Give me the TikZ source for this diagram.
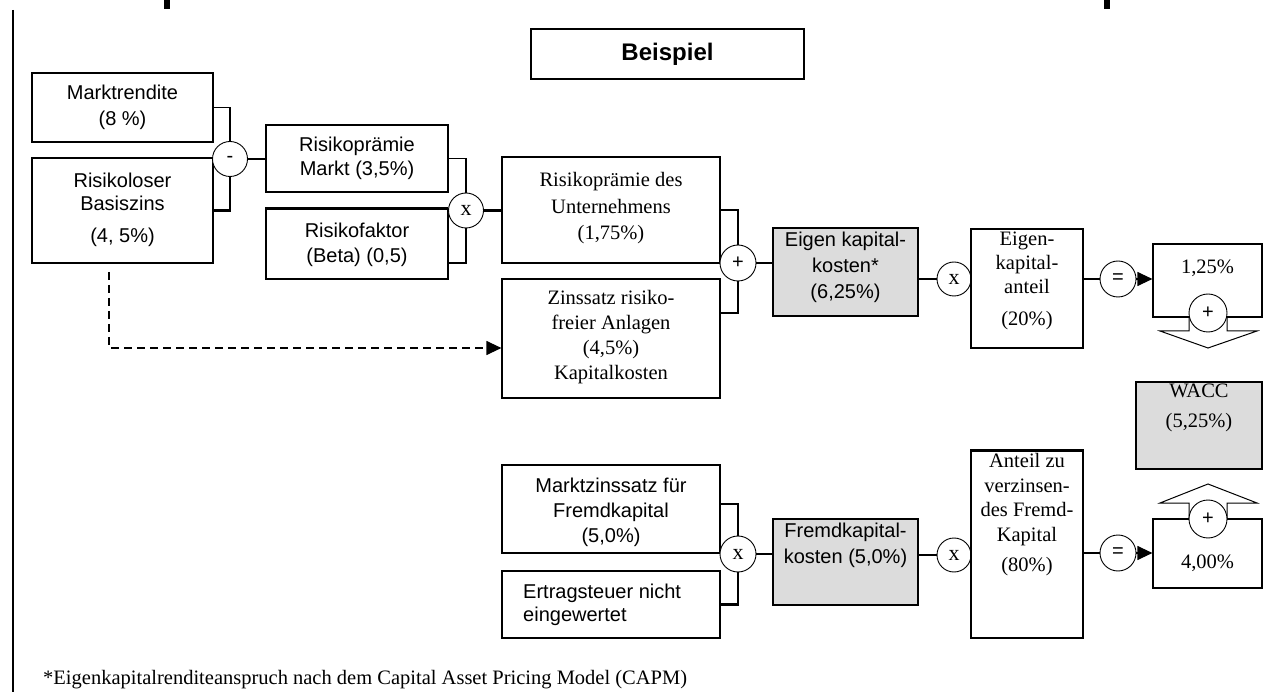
\documentclass[tikz,border=0pt]{standalone}
\usepackage{fontspec}
\setmainfont{Liberation Serif}
\newfontfamily\sansf{Liberation Sans}
\usetikzlibrary{arrows.meta,calc}
\definecolor{boxgrey}{RGB}{220,220,220}
\begin{document}
\begin{tikzpicture}[x=1pt,y=-1pt,
  box/.style={draw=black, line width=1.2pt, inner sep=0pt, rectangle},
  gbox/.style={box, fill=boxgrey},
  op/.style={circle, draw=black, line width=0.9pt, fill=white, inner sep=0pt, font=\sansf\fontsize{20}{20}\selectfont},
  opx/.style={op, font=\fontsize{22}{22}\selectfont},
  stxt/.style={align=center, inner sep=0pt, font=\sansf\fontsize{20}{26}\selectfont},
  rtxt/.style={align=center, inner sep=0pt, font=\fontsize{20.5}{25}\selectfont},
  conn/.style={line width=1.2pt, line join=miter},
  tconn/.style={line width=2.6pt, line join=miter},
  tip/.style={-{Triangle[length=15pt,width=14pt]}}
]
\fill[white] (0,0) rectangle (1275,692);
\useasboundingbox (0,0) rectangle (1275,692);

% frame marks
\draw[line width=1.5pt] (13,10) -- (13,692);
\fill (164,0) rectangle (170,9);
\fill (1104,0) rectangle (1110,9);

% title
\node[box, minimum width=273pt, minimum height=50pt] (beispiel) at (667.5,54) {};
\node[inner sep=0pt, font=\sansf\bfseries\fontsize{24}{24}\selectfont] (beispiel-t) at (667.5,54) {Beispiel};

% ---- upper part ----
\node[box, minimum width=181pt, minimum height=69pt] (markt) at (122.5,107.5) {};
\node[stxt] (markt-t) at (122.5,107) {Marktrendite\\(8 \%)};

\node[box, minimum width=181pt, minimum height=105pt] (risk) at (122.5,210.5) {};
\node[stxt, font=\sansf\fontsize{20}{23}\selectfont] (risk-t) at (122.5,210) {Risikoloser\\Basiszins\\[9pt](4, 5\%)};

\node[op, minimum size=35pt] (minus) at (230,159) {-};

\node[box, minimum width=182pt, minimum height=67pt] (rpm) at (357,158.5) {};
\node[stxt, font=\sansf\fontsize{20}{24}\selectfont] (rpm-t) at (357,158) {Risikoprämie\\Markt (3,5\%)};

\node[box, minimum width=182pt, minimum height=70pt] (rf) at (357,244) {};
\node[stxt, font=\sansf\fontsize{20}{25}\selectfont] (rf-t) at (357,244.5) {Risikofaktor\\(Beta) (0,5)};

\node[opx, minimum size=35pt] (x1) at (466,210.5) {x};

\node[box, minimum width=218pt, minimum height=106pt] (rpu) at (611,210) {};
\node[rtxt, font=\fontsize{20.5}{26.5}\selectfont] (rpu-t) at (611,208.5) {Risikoprämie des\\Unternehmens\\(1,75\%)};

\node[box, minimum width=218pt, minimum height=119pt] (zins) at (611,338.5) {};
\node[rtxt] (zins-t) at (611,337.5) {Zinssatz risiko-\\freier Anlagen\\(4,5\%)\\Kapitalkosten};

\node[op, minimum size=36pt] (plus1) at (738,263) {+};

\node[gbox, minimum width=145pt, minimum height=88pt] (ekk) at (845.5,272) {};
\node[stxt] (ekk-t) at (845.5,267) {Eigen kapital-\\kosten*\\(6,25\%)};

\node[opx, minimum size=34pt] (x2) at (954,279) {x};

\node[box, minimum width=112pt, minimum height=119pt] (eka) at (1027,288.5) {};
\node[rtxt, font=\fontsize{20.5}{24}\selectfont] (eka-t) at (1027,281) {Eigen-\\kapital-\\anteil\\[8pt](20\%)};

\node[op, minimum size=36pt] (eq1) at (1118,279) {=};

\node[box, minimum width=109pt, minimum height=73pt] (r125) at (1207.5,280.5) {};
\node[rtxt] (r125-t) at (1207.5,268) {1,25\%};

% down block arrow
\draw[line width=1pt] (1189,317) -- (1189,331) -- (1160,331) -- (1208,348) -- (1257,331) -- (1227,331) -- (1227,317);
\node[op, minimum size=38pt] (plus2) at (1208,313) {+};

\node[gbox, minimum width=126pt, minimum height=87pt] (wacc) at (1199,425.5) {};
\node[rtxt, font=\fontsize{20.5}{30}\selectfont] (wacc-t) at (1199,408) {WACC\\(5,25\%)};

% ---- lower part ----
\node[box, minimum width=218pt, minimum height=88pt] (mz) at (611,509) {};
\node[stxt, font=\sansf\fontsize{20}{25}\selectfont] (mz-t) at (611,512) {Marktzinssatz für\\Fremdkapital\\(5,0\%)};

\node[box, minimum width=218pt, minimum height=67pt] (ert) at (611,604.5) {};
\node[stxt, align=left, anchor=west, font=\sansf\fontsize{20}{23}\selectfont] (ert-t) at (523,604.5) {Ertragsteuer nicht\\eingewertet};

\node[opx, minimum size=36pt] (x4) at (738,554) {x};

\node[gbox, minimum width=145pt, minimum height=86pt] (fkk) at (845.5,562) {};
\node[stxt] (fkk-t) at (845.5,545) {Fremdkapital-\\kosten (5,0\%)};

\node[opx, minimum size=34pt] (x3) at (954,555) {x};

\node[box, minimum width=112pt, minimum height=187pt] (anteil) at (1027,544.5) {};
\node[rtxt, font=\fontsize{20.5}{24.5}\selectfont] (anteil-t) at (1027,515) {Anteil zu\\verzinsen-\\des Fremd-\\Kapital\\[6pt](80\%)};

\node[op, minimum size=36pt] (eq2) at (1118,553) {=};

\node[box, minimum width=109pt, minimum height=69pt] (r400) at (1207.5,553.5) {};
\node[rtxt] (r400-t) at (1207.5,563) {4,00\%};

% up block arrow
\draw[line width=1pt] (1189,519) -- (1189,503) -- (1160,503) -- (1208,484) -- (1257,503) -- (1227,503) -- (1227,519);
\node[op, minimum size=38pt] (plus3) at (1208,519) {+};

% ---- connectors ----
\draw[conn] (markt.east) -| (minus.north);
\draw[tconn] (risk.east) -| (minus.south);
\draw[conn] (minus.east) -- (minus.east -| rpm.west);
\draw[conn] (rpm.east) -| (x1.north);
\draw[conn] ([yshift=-19pt]rf.east) -| (x1.south);
\draw[tconn] (rf.north west) -- (rf.north west -| x1.west);
\draw[tconn] (x1.east) -- (x1.east -| rpu.west);
\draw[tconn] (rpu.east) -| (plus1.north);
\draw[tconn] ([yshift=25.5pt]zins.east) -| (plus1.south);
\draw[conn] (plus1.east) -- (plus1.east -| ekk.west);
\draw[conn] (x2.west -| ekk.east) -- (x2.west);
\draw[conn] (eq1.west -| eka.east) -- (eq1.west);
\draw[conn, tip] (eq1.east) -- (eq1.east -| r125.west);

\coordinate (dstart) at (109,272);
\draw[conn, dash pattern=on 8pt off 5pt, tip] (dstart) |- ([yshift=-9.5pt]zins.west);

\draw[tconn] ([yshift=5pt]mz.east) -| (x4.north);
\draw[tconn] (ert.east) -| (x4.south);
\draw[conn] (x4.east) -- (x4.east -| fkk.west);
\draw[conn] (x3.west -| fkk.east) -- (x3.west);
\draw[tconn] (anteil.north west) -- (anteil.north east);
\draw[conn] (eq2.west -| anteil.east) -- (eq2.west);
\draw[conn, tip] (eq2.east) -- (eq2.east -| r400.west);

% footnote
\node[anchor=west, inner sep=0pt, font=\fontsize{20.5}{24}\selectfont] (fn) at (43,680) {*Eigenkapitalrenditeanspruch nach dem Capital Asset Pricing Model (CAPM)};
\end{tikzpicture}
\end{document}
